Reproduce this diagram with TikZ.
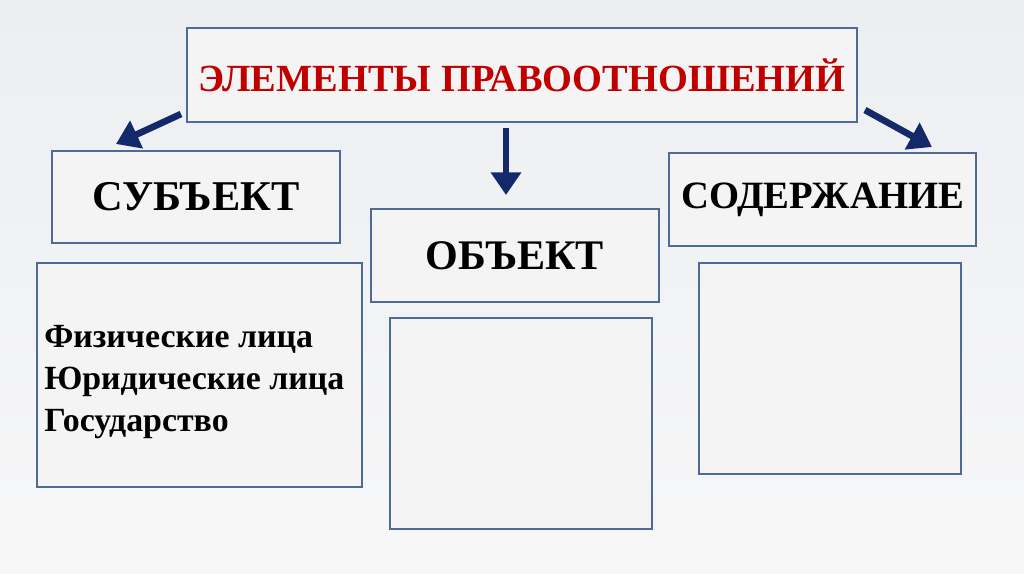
\documentclass[tikz,border=0pt]{standalone}
\usepackage{fontspec}
\setmainfont{Liberation Serif}
\usetikzlibrary{arrows.meta}
\definecolor{bordc}{HTML}{4E6A97}
\definecolor{boxfill}{HTML}{F4F4F5}
\definecolor{arrc}{HTML}{14296A}
\definecolor{titlered}{HTML}{C00000}
\definecolor{bgtop}{HTML}{ECEEF1}
\definecolor{bgbot}{HTML}{F7F7F8}
\tikzset{
  box/.style={draw=bordc, line width=1.5pt, fill=boxfill, inner sep=0pt},
  bigarrow/.style={draw=arrc, line width=5pt, -{Triangle[length=17pt,width=22pt]}},
  headtxt/.style={text=black}
}
\begin{document}
\begin{tikzpicture}[x=0.75pt,y=-0.75pt]
\useasboundingbox (0,0) rectangle (1024,574);
\shade[top color=bgtop, bottom color=bgbot] (0,0) rectangle (1024,574);
% title
\node[box, minimum width=502.5pt, minimum height=70.5pt, text=titlered,
  font=\bfseries\fontsize{28.8}{32}\selectfont] (title) at (522,75) {ЭЛЕМЕНТЫ ПРАВООТНОШЕНИЙ};
% headers
\node[box, headtxt, font=\bfseries\fontsize{31.8}{36}\selectfont, minimum width=216pt, minimum height=69pt] (subj) at (196,197) {СУБЪЕКТ};
\node[box, headtxt, font=\bfseries\fontsize{31.6}{36}\selectfont, minimum width=216pt, minimum height=69.75pt] (obj) at (515,255.5) {ОБЪЕКТ};
\node[box, headtxt, font=\bfseries\fontsize{29}{34}\selectfont, minimum width=230.25pt, minimum height=69.75pt] (cont) at (822.5,199.5) {СОДЕРЖАНИЕ};
% content boxes
\node[box, minimum width=243.75pt, minimum height=168pt] (subjlist) at (199.5,375) {};
\node[anchor=west, align=left, inner sep=0pt, font=\bfseries\fontsize{25.4}{31.5}\selectfont]
  (subjtext) at ([xshift=6pt,yshift=-5pt]subjlist.west) {Физические лица\\Юридические лица\\Государство};
\node[box, minimum width=196.5pt, minimum height=158.25pt] (objlist) at (521,423.5) {};
\node[box, minimum width=196.5pt, minimum height=158.25pt] (contlist) at (830,368.5) {};
% arrows
\coordinate (la) at (181,114);
\coordinate (lb) at (116,144);
\coordinate (ma) at (506,128);
\coordinate (mb) at (506,195);
\coordinate (ra) at (865,110);
\coordinate (rb) at (932,147);
\draw[bigarrow] (la) -- (lb);
\draw[bigarrow] (ma) -- (mb);
\draw[bigarrow] (ra) -- (rb);
\end{tikzpicture}
\end{document}
